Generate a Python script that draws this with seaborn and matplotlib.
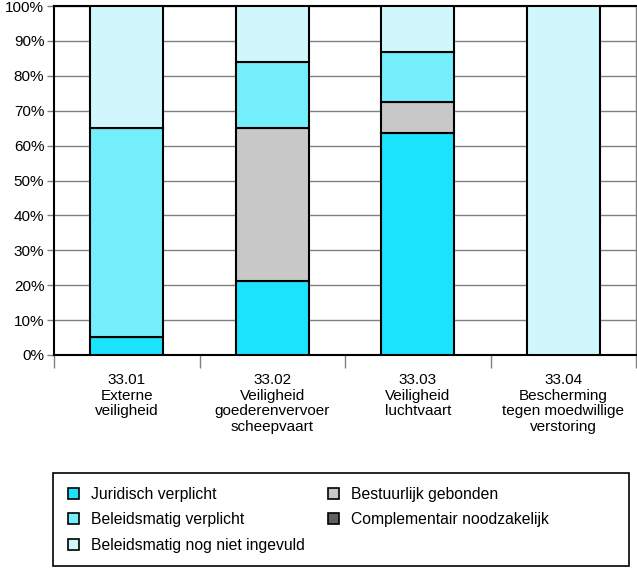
import matplotlib
matplotlib.use("Agg")
import matplotlib.pyplot as plt
import seaborn as sns
import pandas as pd
import numpy as np
from matplotlib.patches import Patch, Rectangle

categories = ["33.01\nExterne\nveiligheid",
              "33.02\nVeiligheid\ngoederenvervoer\nscheepvaart",
              "33.03\nVeiligheid\nluchtvaart",
              "33.04\nBescherming\ntegen moedwillige\nverstoring"]
series = ["Juridisch verplicht", "Bestuurlijk gebonden", "Beleidsmatig verplicht",
          "Complementair noodzakelijk", "Beleidsmatig nog niet ingevuld"]
juridisch = [5.3, 21.3, 63.7, 0.0]
bestuurlijk = [0.0, 43.7, 8.8, 0.0]
beleid_verpl = [59.7, 18.9, 14.2, 0.0]
complementair = [0.0, 0.0, 0.0, 0.0]
nog_niet = [35.0, 16.1, 13.3, 100.0]
colors = {"Juridisch verplicht": "#1ce3fc",
          "Bestuurlijk gebonden": "#c8c8c8",
          "Beleidsmatig verplicht": "#75eefc",
          "Complementair noodzakelijk": "#606060",
          "Beleidsmatig nog niet ingevuld": "#d0f8fc"}
yticks = [0, 10, 20, 30, 40, 50, 60, 70, 80, 90, 100]

values = dict(zip(series, [juridisch, bestuurlijk, beleid_verpl, complementair, nog_niet]))

plt.rcParams['font.family'] = ['Liberation Sans', 'DejaVu Sans']
fig = plt.figure(figsize=(6.37, 5.68), dpi=100)
ax = fig.add_axes([54/637, (568-355)/568, (636-54)/637, (355-6)/568])

bottom = np.zeros(len(categories))
for s in series:
    v = np.array(values[s])
    df = pd.DataFrame({"cat": categories, "val": v})
    if v.sum() > 0:
        sns.barplot(data=df, x="cat", y="val", bottom=bottom, color=colors[s],
                    edgecolor="black", linewidth=1.5, width=0.5, ax=ax,
                    saturation=1, zorder=3)
    bottom = bottom + v

ax.set_xlim(-0.5, len(categories) - 0.5)
ax.set_ylim(0, 100)
ax.set_yticks(yticks)
ax.set_yticklabels([f"{t}%" for t in yticks], fontsize=11)
ax.yaxis.grid(True, color="#808080", linewidth=1, zorder=0)
ax.set_axisbelow(True)
ax.set_xlabel("")
ax.set_ylabel("")
ax.tick_params(axis="x", which="major", length=0, pad=13, labelsize=11)
for lab in ax.get_xticklabels():
    lab.set_linespacing(1.15)
ax.set_xticks(np.arange(-0.5, len(categories) + 0.5, 1), minor=True)
ax.tick_params(axis="x", which="minor", length=9, width=1, color="#808080")
ax.tick_params(axis="y", length=5, width=1, color="#808080", pad=2)
for side in ["left", "bottom", "top"]:
    ax.spines[side].set_color("black")
    ax.spines[side].set_linewidth(1.5)
ax.spines["right"].set_color("#808080")
ax.spines["right"].set_linewidth(1)

# legend frame
fig.patches.append(Rectangle((53/637, 2/568), 576/637, 93/568, transform=fig.transFigure,
                             facecolor="white", edgecolor="black", linewidth=1.2, zorder=1))

order = ["Juridisch verplicht", "Beleidsmatig verplicht", "Beleidsmatig nog niet ingevuld",
         "Bestuurlijk gebonden", "Complementair noodzakelijk"]
handles = [Patch(facecolor=colors[s], edgecolor="black", linewidth=1.2, label=s) for s in order]
leg = fig.legend(handles=handles, ncol=2, loc="upper left",
                 bbox_to_anchor=(68/637, 1 - 487/568),
                 frameon=False, fontsize=11.3,
                 handlelength=0.7, handleheight=0.7, handletextpad=0.75,
                 borderpad=0, borderaxespad=0, labelspacing=0.66, columnspacing=1.5)

fig.savefig("out.png", dpi=100)
